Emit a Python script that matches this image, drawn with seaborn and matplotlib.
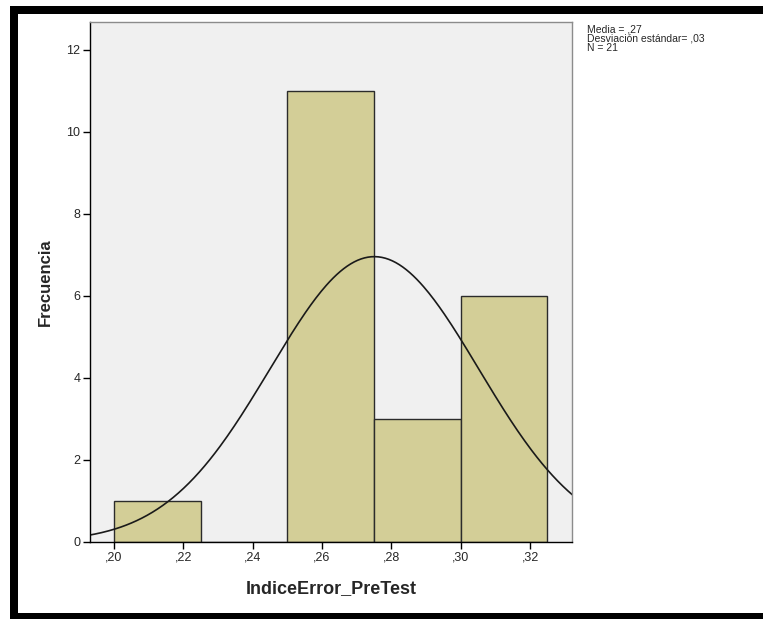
import numpy as np
import pandas as pd
import matplotlib.pyplot as plt
import seaborn as sns
from matplotlib.patches import Rectangle

sns.set_style("white")
plt.rcParams['font.family'] = ['Liberation Sans', 'DejaVu Sans']

# Histograma de IndiceError_PreTest
bordes = [0.20, 0.225, 0.25, 0.275, 0.30, 0.325]
centros = [0.2125, 0.2375, 0.2625, 0.2875, 0.3125]
frecuencias = [1, 0, 11, 3, 6]
media = 0.2751
desviacion = 0.0301
n = 21
ancho = 0.025

dados = pd.DataFrame({'centro': centros, 'frecuencia': frecuencias})

W, H = 763, 619
fig = plt.figure(figsize=(W / 100, H / 100), dpi=100)
ax = fig.add_axes([90 / W, 1 - 542 / H, (572 - 90) / W, (542 - 22) / H])
ax.set_facecolor('#f0f0f0')

sns.histplot(data=dados, x='centro', weights='frecuencia', bins=bordes,
             color='#d3ce97', edgecolor='#2b2b2b', linewidth=1, alpha=1, ax=ax)

# Curva normal
xs = np.linspace(0.19, 0.34, 300)
ys = n * ancho / (desviacion * np.sqrt(2 * np.pi)) * np.exp(-0.5 * ((xs - media) / desviacion) ** 2)
sns.lineplot(x=xs, y=ys, color='#1a1a1a', linewidth=1.2, ax=ax)

ax.set_xlim(0.1931, 0.3321)
ax.set_ylim(0, 12.68)
ax.set_xticks([0.20, 0.22, 0.24, 0.26, 0.28, 0.30, 0.32])
ax.set_xticklabels([',20', ',22', ',24', ',26', ',28', ',30', ',32'])
ax.set_yticks([0, 2, 4, 6, 8, 10, 12])
ax.tick_params(axis='both', direction='out', length=5, width=1, color='black', labelsize=9, pad=2)
ax.tick_params(left=True, bottom=True)

for lado in ['left', 'bottom']:
    ax.spines[lado].set_color('black')
    ax.spines[lado].set_linewidth(1)
for lado in ['top', 'right']:
    ax.spines[lado].set_color('#8c8c8c')
    ax.spines[lado].set_linewidth(1)

ax.set_xlabel('IndiceError_PreTest', fontsize=13, fontweight='bold', labelpad=12)
ax.set_ylabel('Frecuencia', fontsize=12, fontweight='bold', labelpad=10)

fig.text(587 / W, 1 - 24 / H, 'Media = ,27\nDesviación estándar= ,03\nN = 21',
         fontsize=7.5, va='top', ha='left', linespacing=0.95)

# Marco negro (izquierda, arriba, abajo)
for x0, y0, w, h in [(10, 6, 8, 613), (10, 6, 753, 8), (10, 613, 753, 6)]:
    fig.patches.append(Rectangle((x0 / W, 1 - (y0 + h) / H), w / W, h / H,
                                 transform=fig.transFigure, color='black', lw=0))

plt.savefig('out.png', dpi=100)
